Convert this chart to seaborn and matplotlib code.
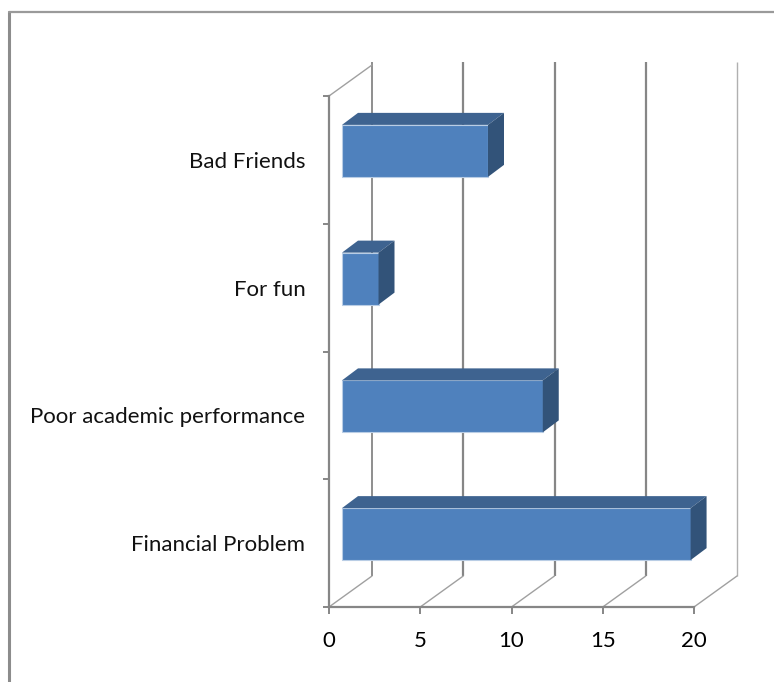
import matplotlib
matplotlib.use("Agg")
import matplotlib.pyplot as plt
import pandas as pd
import seaborn as sns
from matplotlib.lines import Line2D
from matplotlib.patches import Polygon

categories = ["Bad Friends", "For fun", "Poor academic performance", "Financial Problem"]
values = [8, 2, 11, 19.1]
x_ticks = [0, 5, 10, 15, 20]

FRONT = "#4f81bd"
TOP = "#3e6390"
SIDE = "#325379"
GRID = "#868686"

# pixel scale of the axes, used for the fake 3D depth
W, H = 774, 682
PX_X = 20 / 365
PX_Y = 4 / 511

sns.set_theme(style="white")
plt.rcParams["font.family"] = ["Lato", "DejaVu Sans"]

df = pd.DataFrame({"reason": categories, "count": values})

fig = plt.figure(figsize=(W / 100, H / 100), dpi=100, facecolor="white")
ax = fig.add_axes([329 / W, (H - 607) / H, 365 / W, 511 / H])

bar_left = 13 * PX_X
sns.barplot(data=df, y="reason", x="count", order=categories, color=FRONT,
            saturation=1, width=52 * PX_Y, left=bar_left, ax=ax, zorder=3,
            edgecolor="#b9cde5", linewidth=0.8)
ax.set_xlim(0, 20)
ax.set_ylim(3.5, -0.5)
ax.set_xlabel("")
ax.set_ylabel("")

# ── back wall and floor ─────────────────────────────────────────────────────
dx, dy = 43 * PX_X, 31 * PX_Y
for i, t in enumerate(x_ticks):
    last = t == x_ticks[-1]
    c = "#b0b0b0" if last else GRID
    lw = 1.0 if last else 1.3 if i == 0 else 1.6
    ax.plot([t + dx, t + dx], [3.5 - dy, -0.5 - 3 * PX_Y - dy], color=c, lw=lw,
            clip_on=False, zorder=1, solid_capstyle="butt")
    ax.plot([t, t + dx], [3.5, 3.5 - dy], color="#a0a0a0", lw=1, clip_on=False, zorder=1)
ax.plot([0, dx], [-0.5, -0.5 - dy], color="#a0a0a0", lw=1, clip_on=False, zorder=1)

# ── bar depth faces ─────────────────────────────────────────────────────────
shift_y = 9 * PX_Y
bx, by = 16 * PX_X, 12 * PX_Y
for bar in ax.patches:
    bar.set_y(bar.get_y() - shift_y)
    x0, x1 = bar.get_x(), bar.get_x() + bar.get_width()
    y0, y1 = bar.get_y(), bar.get_y() + bar.get_height()
    ax.add_patch(Polygon([(x0, y0), (x1, y0), (x1 + bx, y0 - by), (x0 + bx, y0 - by)],
                         facecolor=TOP, edgecolor="none", clip_on=False, zorder=3))
    ax.add_patch(Polygon([(x1, y0), (x1 + bx, y0 - by), (x1 + bx, y1 - by), (x1, y1)],
                         facecolor=SIDE, edgecolor="none", clip_on=False, zorder=3))

# ── axes lines, ticks, labels ───────────────────────────────────────────────
for side in ["top", "right"]:
    ax.spines[side].set_visible(False)
for side in ["left", "bottom"]:
    ax.spines[side].set_color(GRID)
    ax.spines[side].set_linewidth(1.6)

ax.set_xticks(x_ticks)
ax.tick_params(axis="x", length=5, width=1.4, color=GRID, pad=12, labelsize=16,
               labelcolor="black", bottom=True)
ax.tick_params(axis="y", which="major", length=0, pad=17, labelsize=16, labelcolor="#111111")
ax.set_yticks([-0.5, 0.5, 1.5, 2.5, 3.5], minor=True)
ax.tick_params(axis="y", which="minor", length=4, width=1.4, color=GRID, left=True)

# outer chart frame, only top and left are in the crop
fig.add_artist(Line2D([9 / W, 9 / W], [0, 1 - 12 / H], color="#8c8c8c", lw=2.2))
fig.add_artist(Line2D([9 / W, 1], [1 - 12 / H, 1 - 12 / H], color="#9a9a9a", lw=1.6))

fig.savefig("out.png", dpi=100)
